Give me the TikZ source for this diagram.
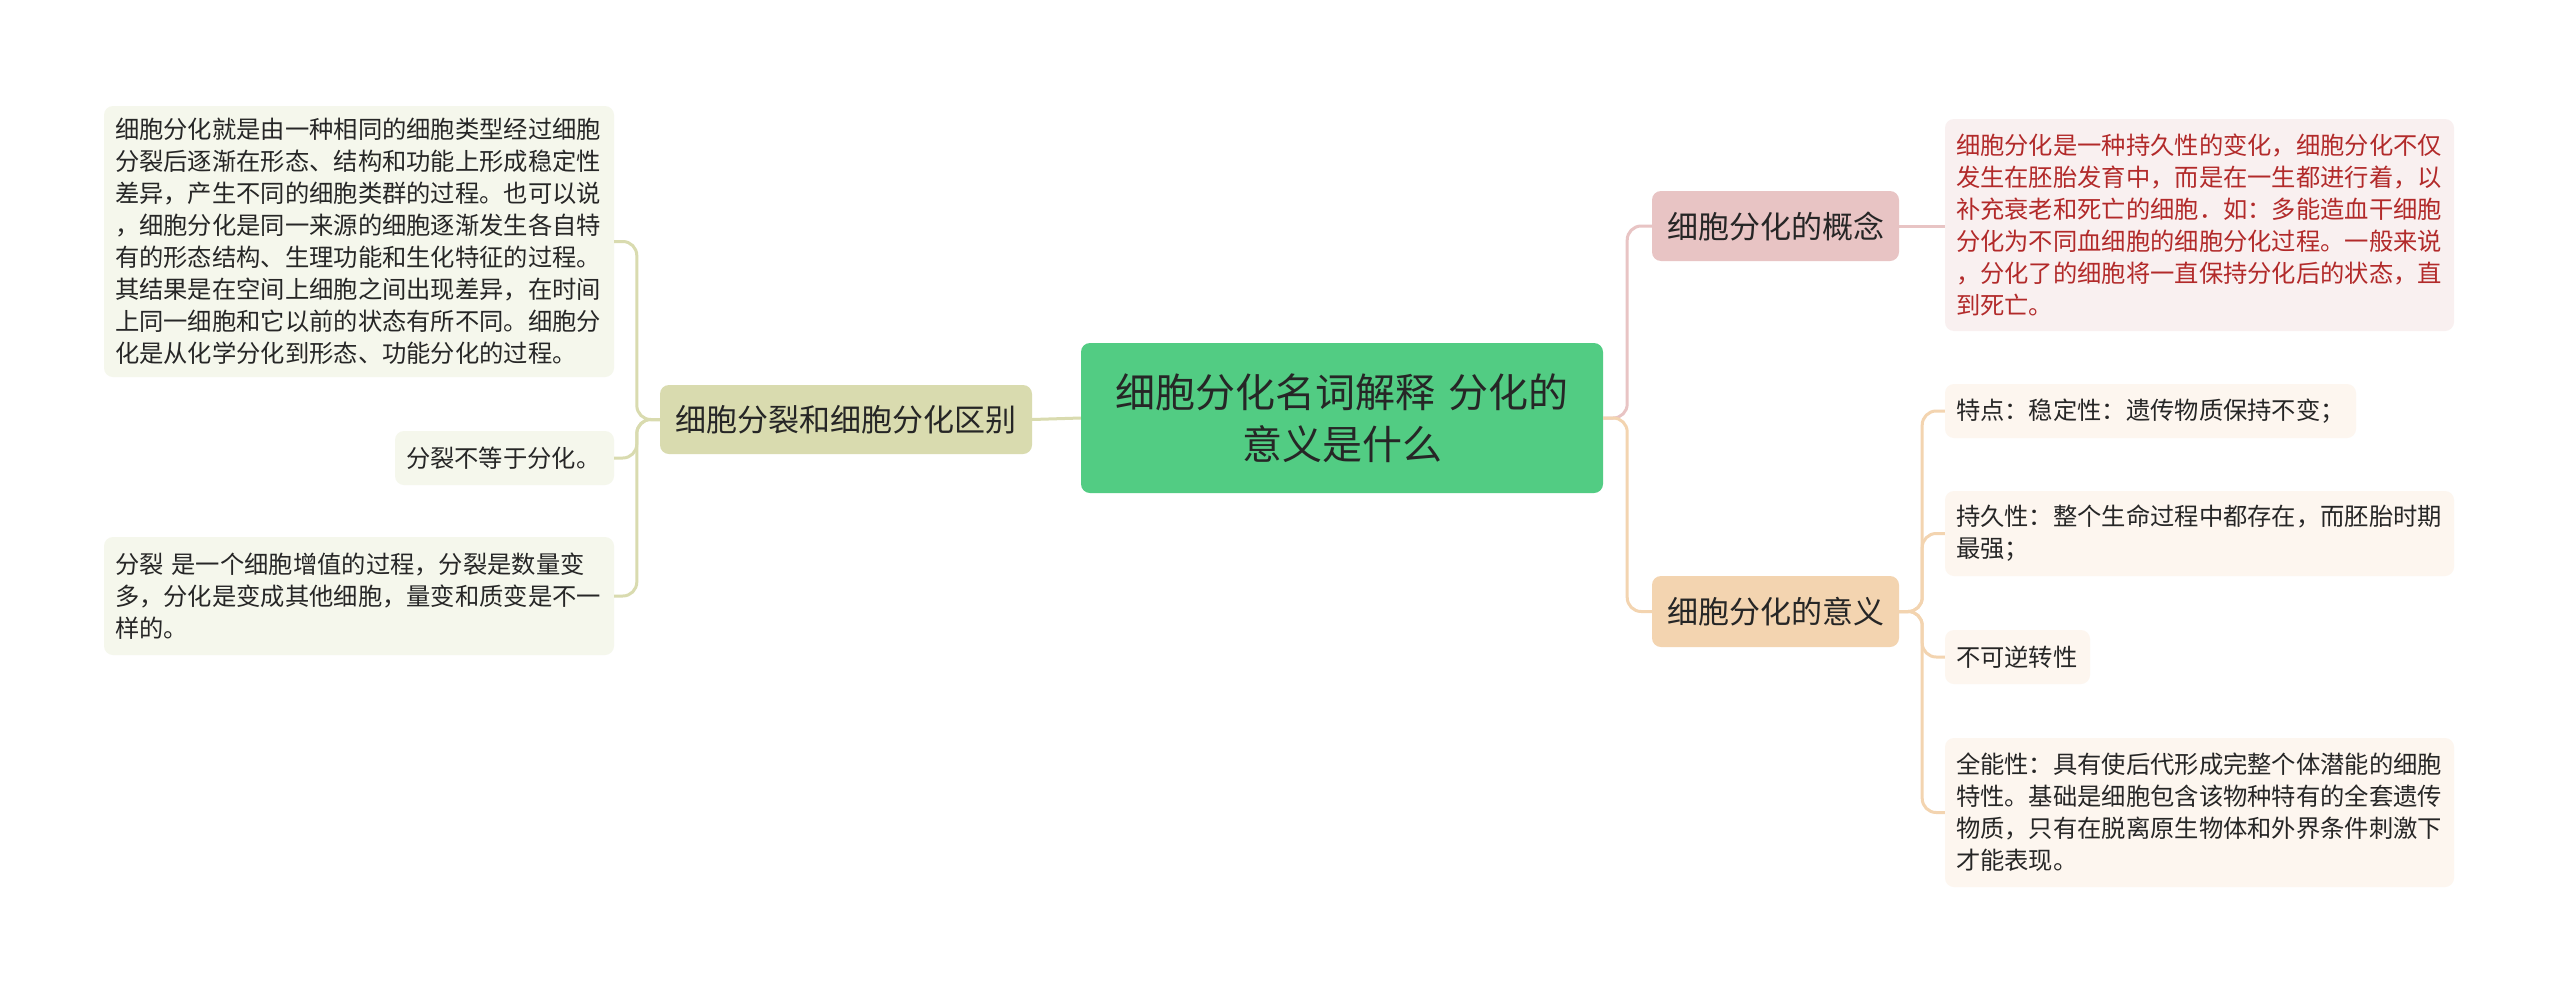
\documentclass[tikz,border=0pt]{standalone}
\usepackage{fontspec}
\setmainfont{Noto Sans CJK SC}
\definecolor{cgreen}{HTML}{52CC83}
\definecolor{colive}{HTML}{D9DBAF}
\definecolor{coliveleaf}{HTML}{F5F7EC}
\definecolor{cpink}{HTML}{E8C4C4}
\definecolor{cpinkleaf}{HTML}{F9F0F0}
\definecolor{cred}{HTML}{B22A2A}
\definecolor{cpeach}{HTML}{F3D4B0}
\definecolor{cpeachleaf}{HTML}{FDF6EF}
\definecolor{ctext}{HTML}{262626}
\begin{document}
\begin{tikzpicture}[x=1pt,y=-1pt,
  box/.style={rounded corners=9pt, inner xsep=11pt, inner ysep=0pt, align=left, text=ctext},
  leaftxt/.style={font=\fontsize{24.3}{32}\selectfont},
  branchtxt/.style={font=\fontsize{31}{38}\selectfont, align=center},
  olivelink/.style={draw=colive, line width=3pt, rounded corners=14pt},
  pinklink/.style={draw=cpink, line width=3pt, rounded corners=14pt},
  peachlink/.style={draw=cpeach, line width=3pt, rounded corners=14pt}]
\useasboundingbox (0,0) rectangle (2560,991);
\fill[white] (0,0) rectangle (2560,991);

% center
\node[box, fill=cgreen, align=center, text width=500pt, minimum height=150pt, font=\fontsize{40}{52}\selectfont] (c) at (1342,418) {细胞分化名词解释 分化的\\意义是什么};

% left branch
\node[box, branchtxt, fill=colive, text width=350pt, minimum height=69pt] (lb) at (846,419.5) {细胞分裂和细胞分化区别};

\node[box, leaftxt, fill=coliveleaf, text width=488pt, minimum height=271pt] (l1) at (359,241.5) {细胞分化就是由一种相同的细胞类型经过细胞\\分裂后逐渐在形态、结构和功能上形成稳定性\\差异，产生不同的细胞类群的过程。也可以说\\，细胞分化是同一来源的细胞逐渐发生各自特\\有的形态结构、生理功能和生化特征的过程。\\其结果是在空间上细胞之间出现差异，在时间\\上同一细胞和它以前的状态有所不同。细胞分\\化是从化学分化到形态、功能分化的过程。};
\node[box, leaftxt, fill=coliveleaf, text width=197pt, minimum height=54pt] (l2) at (504.5,458) {分裂不等于分化。};
\node[box, leaftxt, fill=coliveleaf, text width=488pt, minimum height=118pt] (l3) at (359,596) {分裂 是一个细胞增值的过程，分裂是数量变\\多，分化是变成其他细胞，量变和质变是不一\\样的。};

% right branch 1
\node[box, branchtxt, fill=cpink, text width=225pt, minimum height=70pt] (rb1) at (1775.5,226) {细胞分化的概念};
\node[box, leaftxt, fill=cpinkleaf, text=cred, text width=487pt, minimum height=212pt] (r1) at (2199.5,225) {细胞分化是一种持久性的变化，细胞分化不仅\\发生在胚胎发育中，而是在一生都进行着，以\\补充衰老和死亡的细胞．如：多能造血干细胞\\分化为不同血细胞的细胞分化过程。一般来说\\，分化了的细胞将一直保持分化后的状态，直\\到死亡。};

% right branch 2
\node[box, branchtxt, fill=cpeach, text width=225pt, minimum height=71pt] (rb2) at (1775.5,611.5) {细胞分化的意义};
\node[box, leaftxt, fill=cpeachleaf, text width=389pt, minimum height=54pt] (r2a) at (2150.5,411) {特点：稳定性：遗传物质保持不变；};
\node[box, leaftxt, fill=cpeachleaf, text width=487pt, minimum height=85pt] (r2b) at (2199.5,533.5) {持久性：整个生命过程中都存在，而胚胎时期\\最强；};
\node[box, leaftxt, fill=cpeachleaf, text width=123pt, minimum height=54pt] (r2c) at (2017.5,657) {不可逆转性};
\node[box, leaftxt, fill=cpeachleaf, text width=487pt, minimum height=149pt] (r2d) at (2199.5,812.5) {全能性：具有使后代形成完整个体潜能的细胞\\特性。基础是细胞包含该物种特有的全套遗传\\物质，只有在脱离原生物体和外界条件刺激下\\才能表现。};

% connectors
\draw[olivelink] (c.west) -- (lb.east);
\draw[olivelink] (lb.west) -- ++(-23,0) |- (l1.east);
\draw[olivelink] (lb.west) -- ++(-23,0) |- (l2.east);
\draw[olivelink] (lb.west) -- ++(-23,0) |- (l3.east);
\draw[pinklink] (c.east) -- ++(24,0) |- (rb1.west);
\draw[peachlink] (c.east) -- ++(24,0) |- (rb2.west);
\draw[pinklink] (rb1.east) -- (rb1.east -| r1.west);
\draw[peachlink] (rb2.east) -- ++(23,0) |- (r2a.west);
\draw[peachlink] (rb2.east) -- ++(23,0) |- (r2b.west);
\draw[peachlink] (rb2.east) -- ++(23,0) |- (r2c.west);
\draw[peachlink] (rb2.east) -- ++(23,0) |- (r2d.west);
\end{tikzpicture}
\end{document}
